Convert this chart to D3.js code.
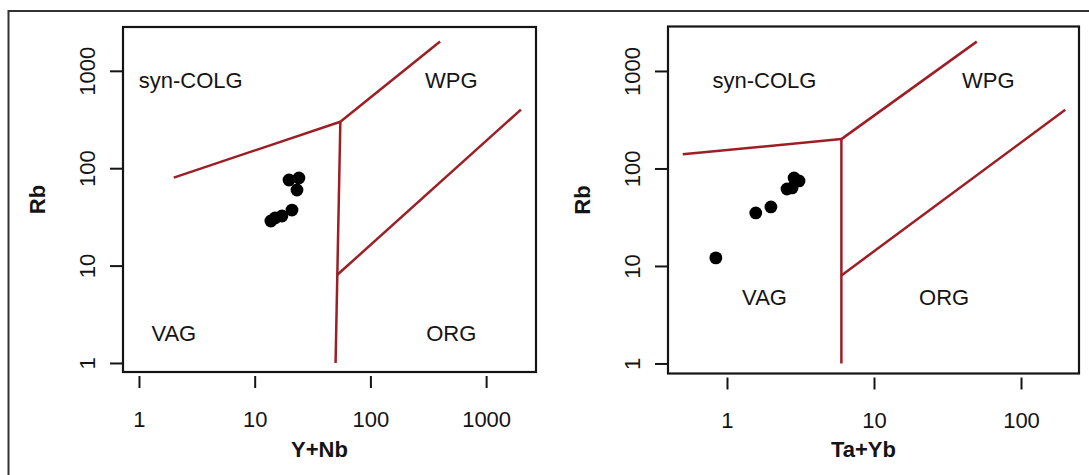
<!DOCTYPE html>
<html>
<head>
<meta charset="utf-8">
<script src="https://cdn.jsdelivr.net/npm/d3@7"></script>
<style>
  body { margin: 0; background: #fff; }
  text { font-family: "Liberation Sans", Arial, sans-serif; fill: #141414; }
</style>
</head>
<body>
<svg width="1089" height="475"></svg>
<script>
var WIDTH = 1089;
var HEIGHT = 475;

// sample points, Rb vs Y+Nb
var ynbValues = [19.8, 24.1, 23.2, 21.0, 17.2, 15.0, 13.8];
var rbLeft = [75.7, 79.3, 59.7, 37.2, 32.3, 30.8, 28.7];

// sample points, Rb vs Ta+Yb
var taybValues = [0.84, 1.57, 1.99, 2.56, 2.77, 2.86, 3.09];
var rbRight = [12.1, 35.0, 40.3, 61.6, 63.1, 79.9, 74.5];

// field boundaries (Pearce et al. 1984)
var boundsLeft = [
    [[2, 80], [55, 300]],
    [[55, 300], [400, 2000]],
    [[50, 1], [55, 300]],
    [[51.5, 8], [2000, 400]]
];
var boundsRight = [
    [[0.5, 140], [6, 200]],
    [[6, 200], [50, 2000]],
    [[6, 1], [6, 200]],
    [[6, 8], [200, 400]]
];

var fieldNames = ['syn-COLG', 'WPG', 'VAG', 'ORG'];
var fieldPosLeft = [[2.8, 800], [500, 800], [2, 2], [500, 2]];
var fieldPosRight = [[1.8, 800], [60, 800], [1.8, 4.75], [30, 4.75]];

var xTicksLeft = [1, 10, 100, 1000];
var xTicksRight = [1, 10, 100];
var yTicks = [1, 10, 100, 1000];

var panels = [
    { box: [123, 27, 536, 372], xDomain: [0.7278, 2698], yDomain: [0.808, 2818],
      xTicks: xTicksLeft, xLabel: 'Y+Nb', xs: ynbValues, ys: rbLeft,
      bounds: boundsLeft, fields: fieldPosLeft },
    { box: [668, 26.5, 1079, 373.5], xDomain: [0.397, 248], yDomain: [0.789, 2858],
      xTicks: xTicksRight, xLabel: 'Ta+Yb', xs: taybValues, ys: rbRight,
      bounds: boundsRight, fields: fieldPosRight }
];

var svg = d3.select('svg');

// outer frame (only top and left show in the crop)
svg.append('path')
    .attr('d', 'M8.5,' + HEIGHT + 'V11H' + WIDTH)
    .attr('fill', 'none')
    .attr('stroke', '#333')
    .attr('stroke-width', 2);

panels.forEach(function(p) {
    var x0 = p.box[0], y0 = p.box[1], x1 = p.box[2], y1 = p.box[3];
    var x = d3.scaleLog().domain(p.xDomain).range([x0, x1]);
    var y = d3.scaleLog().domain(p.yDomain).range([y1, y0]);
    var g = svg.append('g');

    // boundaries
    var line = d3.line()
        .x(function(d) { return x(d[0]); })
        .y(function(d) { return y(d[1]); });
    g.selectAll('path.bound')
        .data(p.bounds)
        .enter()
        .append('path')
        .attr('class', 'bound')
        .attr('d', line)
        .attr('fill', 'none')
        .attr('stroke', '#9c1f26')
        .attr('stroke-width', 2.5);

    // points
    g.selectAll('circle')
        .data(p.xs)
        .enter()
        .append('circle')
        .attr('cx', function(d) { return x(d); })
        .attr('cy', function(d, i) { return y(p.ys[i]); })
        .attr('r', 6.4)
        .attr('fill', '#000');

    // field labels
    g.selectAll('text.field')
        .data(fieldNames)
        .enter()
        .append('text')
        .attr('class', 'field')
        .attr('x', function(d, i) { return x(p.fields[i][0]); })
        .attr('y', function(d, i) { return y(p.fields[i][1]); })
        .attr('text-anchor', 'middle')
        .attr('dominant-baseline', 'central')
        .attr('font-size', 22)
        .text(function(d) { return d; });

    // box
    g.append('rect')
        .attr('x', x0).attr('y', y0)
        .attr('width', x1 - x0).attr('height', y1 - y0)
        .attr('fill', 'none')
        .attr('stroke', '#141414')
        .attr('stroke-width', 2.2);

    // y axis: ticks touch the box
    var yAxis = d3.axisLeft(y)
        .tickValues(yTicks)
        .tickFormat(d3.format('d'))
        .tickSize(13)
        .tickPadding(15);
    var ya = g.append('g')
        .attr('transform', 'translate(' + x0 + ',0)')
        .call(yAxis);
    ya.select('.domain').remove();
    ya.selectAll('line').attr('stroke', '#141414').attr('stroke-width', 2);
    ya.selectAll('text')
        .attr('font-size', 22)
        .attr('fill', '#141414')
        .attr('text-anchor', 'middle')
        .attr('x', null)
        .attr('dy', null)
        .attr('dominant-baseline', 'auto')
        .attr('transform', function() { return 'translate(-28,0) rotate(-90)'; });

    // x axis: ticks start a bit below the box, no axis line
    var xAxis = d3.axisBottom(x)
        .tickValues(p.xTicks)
        .tickFormat(d3.format('d'))
        .tickSize(12)
        .tickPadding(23);
    var xa = g.append('g')
        .attr('transform', 'translate(0,' + (y1 + 4) + ')')
        .call(xAxis);
    xa.select('.domain').remove();
    xa.selectAll('line').attr('stroke', '#141414').attr('stroke-width', 2);
    xa.selectAll('text')
        .attr('font-size', 22)
        .attr('fill', '#141414');

    // axis titles
    g.append('text')
        .attr('x', (x0 + x1) / 2 - 10)
        .attr('y', 457)
        .attr('text-anchor', 'middle')
        .attr('font-size', 22)
        .attr('font-weight', 'bold')
        .text(p.xLabel);
    g.append('text')
        .attr('transform', 'translate(' + (x0 - 78) + ',' + ((y0 + y1) / 2) + ') rotate(-90)')
        .attr('text-anchor', 'middle')
        .attr('font-size', 22)
        .attr('font-weight', 'bold')
        .text('Rb');
});
</script>
</body>
</html>
